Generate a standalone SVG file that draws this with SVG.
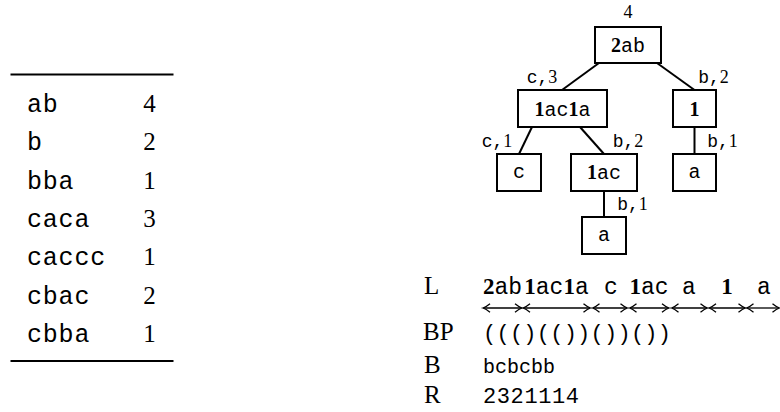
<svg xmlns="http://www.w3.org/2000/svg" width="780" height="412" viewBox="0 0 780 412">
  <style>
    .tt { font-family: "Liberation Mono", "DejaVu Sans Mono", monospace; }
    .rm { font-family: "Liberation Serif", "DejaVu Serif", serif; }
    .bf { font-weight: bold; }
    .box { fill: #fff; stroke: #000; stroke-width: 2; }
    .edge { stroke: #000; stroke-width: 2; fill: none; }
    .rule { stroke: #000; stroke-width: 2.2; }
    .span { stroke: #000; stroke-width: 1.3; fill: none; marker-start: url(#head); marker-end: url(#head); }
    .node { font-size: 20px; }
    .lab { font-size: 18px; }
    .ttab { font-size: 25px; }
    .ntab { font-size: 25px; }
    .row { font-size: 23px; }
    .key { font-size: 25px; }
  </style>
  <defs>
    <marker id="head" markerUnits="userSpaceOnUse" markerWidth="12" markerHeight="12" viewBox="-8 -6 10 12" refX="0" refY="0" orient="auto-start-reverse" overflow="visible">
      <path d="M -6.5,-4.2 Q -2.5,-0.9 0.5,0 Q -2.5,0.9 -6.5,4.2" fill="none" stroke="#000" stroke-width="1.3"/>
    </marker>
  </defs>

  <!-- frequency table -->
  <g id="table">
    <line class="rule" x1="10.5" y1="74.5" x2="173.5" y2="74.5"/>
    <line class="rule" x1="10.5" y1="361" x2="173.5" y2="361"/>
    <g class="tt ttab" letter-spacing="0.8">
      <text x="27" y="112">ab</text>
      <text x="27" y="150">b</text>
      <text x="27" y="188.5">bba</text>
      <text x="27" y="226.5">caca</text>
      <text x="27" y="265">caccc</text>
      <text x="27" y="303.5">cbac</text>
      <text x="27" y="341.5">cbba</text>
    </g>
    <g class="rm ntab" text-anchor="middle">
      <text x="149.5" y="112">4</text>
      <text x="149.5" y="150">2</text>
      <text x="149.5" y="188.5">1</text>
      <text x="149.5" y="226.5">3</text>
      <text x="149.5" y="265">1</text>
      <text x="149.5" y="303.5">2</text>
      <text x="149.5" y="341.5">1</text>
    </g>
  </g>

  <!-- tree connectors and their labels -->
  <g id="connectors">
    <line class="edge" x1="599" y1="63" x2="562" y2="90"/>
    <line class="edge" x1="657" y1="63" x2="694.5" y2="90"/>
    <line class="edge" x1="532" y1="127" x2="519" y2="154"/>
    <line class="edge" x1="580" y1="127" x2="604" y2="154"/>
    <line class="edge" x1="694.5" y1="127" x2="694.5" y2="154"/>
    <line class="edge" x1="604" y1="191" x2="604" y2="217"/>
    <g class="lab" text-anchor="middle">
      <text x="542" y="83"><tspan class="tt">c,</tspan><tspan class="rm">3</tspan></text>
      <text x="713.5" y="83"><tspan class="tt">b,</tspan><tspan class="rm">2</tspan></text>
      <text x="497" y="147"><tspan class="tt">c,</tspan><tspan class="rm">1</tspan></text>
      <text x="628" y="147"><tspan class="tt">b,</tspan><tspan class="rm">2</tspan></text>
      <text x="722.5" y="147"><tspan class="tt">b,</tspan><tspan class="rm">1</tspan></text>
      <text x="632.5" y="210"><tspan class="tt">b,</tspan><tspan class="rm">1</tspan></text>
    </g>
  </g>

  <!-- tree nodes -->
  <g id="root">
    <text class="rm lab" x="628" y="18" text-anchor="middle" font-size="20">4</text>
    <rect class="box" x="595" y="27" width="66" height="36"/>
    <text class="node" x="628" y="52" text-anchor="middle"><tspan class="rm bf">2</tspan><tspan class="tt">ab</tspan></text>
  </g>
  <g id="n-1ac1a">
    <rect class="box" x="518" y="90" width="89" height="37"/>
    <text class="node" x="562.5" y="115.5" text-anchor="middle"><tspan class="rm bf">1</tspan><tspan class="tt">ac</tspan><tspan class="rm bf">1</tspan><tspan class="tt">a</tspan></text>
  </g>
  <g id="n-1">
    <rect class="box" x="673" y="90" width="43" height="37"/>
    <text class="node rm bf" x="694.5" y="115.5" text-anchor="middle">1</text>
  </g>
  <g id="n-c">
    <rect class="box" x="497" y="154" width="44" height="37"/>
    <text class="node tt" x="519" y="178" text-anchor="middle">c</text>
  </g>
  <g id="n-1ac">
    <rect class="box" x="571" y="154" width="66" height="37"/>
    <text class="node" x="604" y="179" text-anchor="middle"><tspan class="rm bf">1</tspan><tspan class="tt">ac</tspan></text>
  </g>
  <g id="n-a-right">
    <rect class="box" x="673" y="154" width="43" height="37"/>
    <text class="node tt" x="694.5" y="178" text-anchor="middle">a</text>
  </g>
  <g id="n-a-low">
    <rect class="box" x="582" y="217" width="44" height="37"/>
    <text class="node tt" x="604" y="241" text-anchor="middle">a</text>
  </g>

  <!-- encoding rows -->
  <g id="encoding">
    <g class="rm key">
      <text x="424" y="294">L</text>
      <text x="423" y="340">BP</text>
      <text x="424" y="373">B</text>
      <text x="424" y="403">R</text>
    </g>
    <g class="row" text-anchor="middle">
      <text x="502.5" y="294"><tspan class="rm bf">2</tspan><tspan class="tt">ab</tspan></text>
      <text x="556.5" y="294"><tspan class="rm bf">1</tspan><tspan class="tt">ac</tspan><tspan class="rm bf">1</tspan><tspan class="tt">a</tspan></text>
      <text class="tt" x="611" y="294">c</text>
      <text x="649" y="294"><tspan class="rm bf">1</tspan><tspan class="tt">ac</tspan></text>
      <text class="tt" x="689" y="294">a</text>
      <text class="rm bf" x="727" y="294">1</text>
      <text class="tt" x="764" y="294">a</text>
    </g>
    <g id="spans">
      <line class="span" x1="483.5" y1="308" x2="521.5" y2="308"/>
      <line class="span" x1="523.5" y1="308" x2="590" y2="308"/>
      <line class="span" x1="593" y1="308" x2="627" y2="308"/>
      <line class="span" x1="630" y1="308" x2="668.5" y2="308"/>
      <line class="span" x1="672" y1="308" x2="707" y2="308"/>
      <line class="span" x1="709.5" y1="308" x2="745" y2="308"/>
      <line class="span" x1="747" y1="308" x2="779" y2="308"/>
    </g>
    <g class="tt">
      <text x="483" y="340" font-size="22" textLength="188" lengthAdjust="spacing">((()(())())())</text>
      <text x="483" y="373" font-size="20">bcbcbb</text>
      <text x="483" y="403" font-size="22" textLength="96" lengthAdjust="spacing">2321114</text>
    </g>
  </g>
</svg>
